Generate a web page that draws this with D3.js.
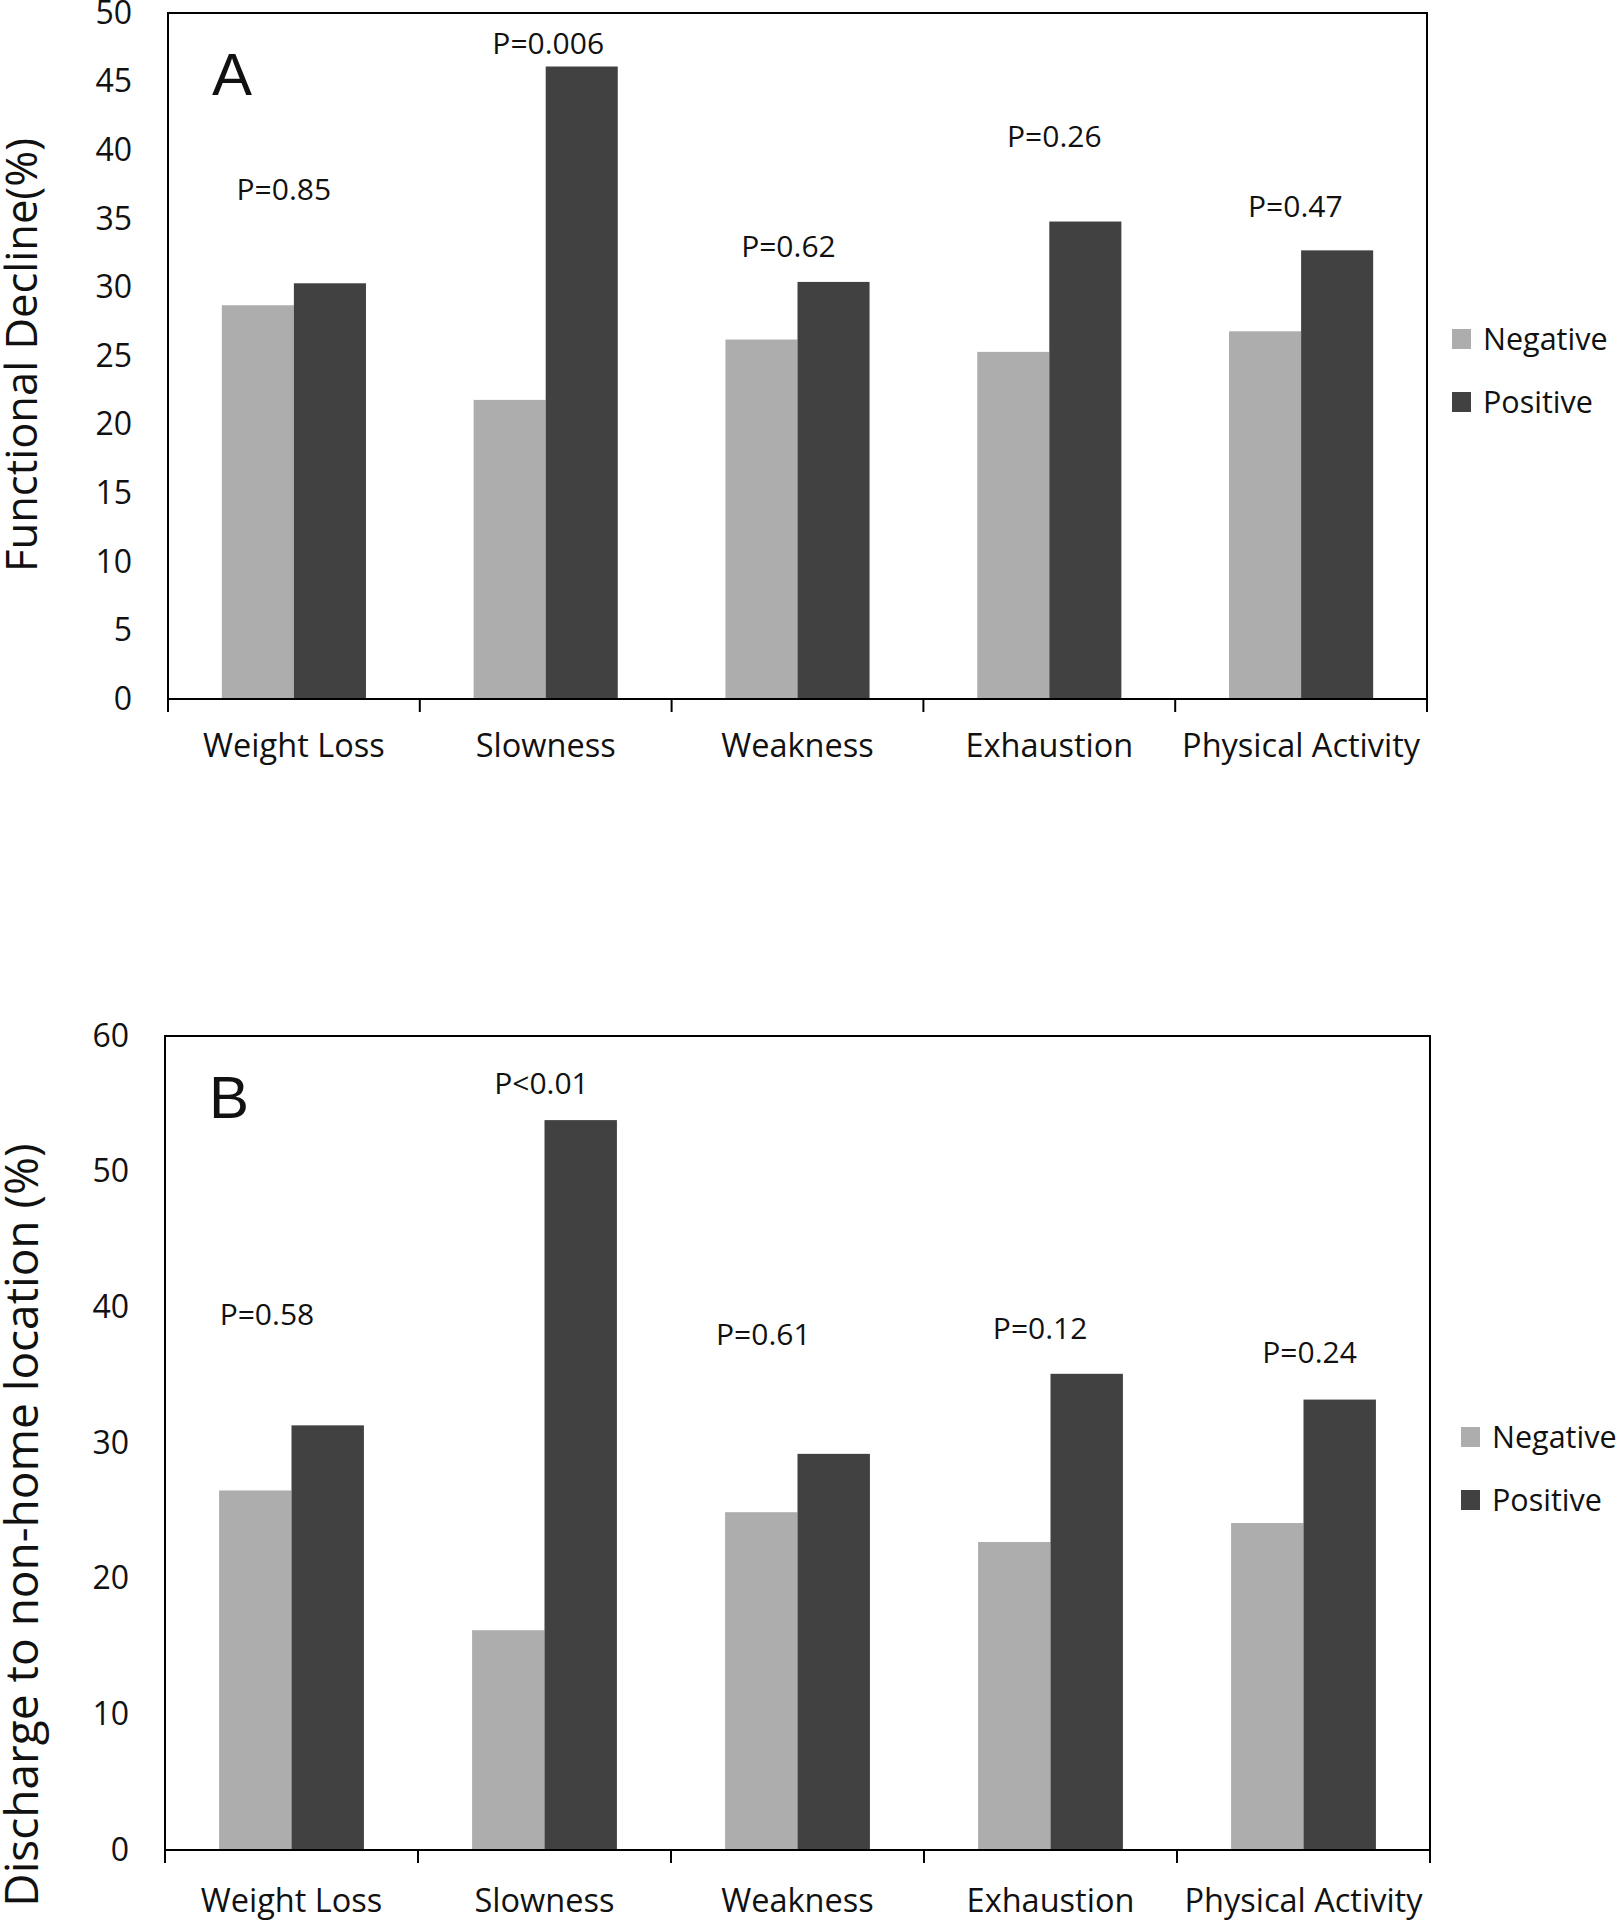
<!DOCTYPE html>
<html>
<head>
<meta charset="utf-8">
<script src="https://cdn.jsdelivr.net/npm/d3@7"></script>
<style>
  html, body { margin: 0; padding: 0; background: #fff; }
  svg { display: block; }
  text { font-family: "Open Sans", "Noto Sans", sans-serif; fill: #111; }
</style>
</head>
<body>
<svg id="chart" width="1619" height="1920"></svg>
<script>
// ---------- DATA ----------
const categories = ["Weight Loss", "Slowness", "Weakness", "Exhaustion", "Physical Activity"];
const seriesNames = ["Negative", "Positive"];

// Panel A: Functional Decline (%)
const declineNegative = [28.7, 21.8, 26.2, 25.3, 26.8];
const declinePositive = [30.3, 46.1, 30.4, 34.8, 32.7];
const declineTicks = [0, 5, 10, 15, 20, 25, 30, 35, 40, 45, 50];
const declinePLabels = ["P=0.85", "P=0.006", "P=0.62", "P=0.26", "P=0.47"];
const declinePLabelValue = [36.4, 47.0, 32.2, 40.2, 35.1];
const declinePLabelShift = [-0.04, 0.01, -0.036, 0.02, -0.023];

// Panel B: Discharge to non-home location (%)
const dischargeNegative = [26.5, 16.2, 24.9, 22.7, 24.1];
const dischargePositive = [31.3, 53.8, 29.2, 35.1, 33.2];
const dischargeTicks = [0, 10, 20, 30, 40, 50, 60];
const dischargePLabels = ["P=0.58", "P<0.01", "P=0.61", "P=0.12", "P=0.24"];
const dischargePLabelValue = [38.7, 55.7, 37.2, 37.7, 35.9];
const dischargePLabelShift = [-0.097, -0.012, -0.135, -0.041, 0.024];

// ---------- STYLE ----------
const colors = { Negative: "#adadad", Positive: "#414141" };

const svg = d3.select("#chart");

function drawPanel(opt) {
  const g = svg.append("g");
  const x = d3.scaleBand().domain(categories).range([opt.left, opt.right]).padding(0);
  const xs = d3.scaleBand().domain(seriesNames).range([0, x.bandwidth()]).paddingInner(0).paddingOuter(0.747);
  const y = d3.scaleLinear().domain([0, opt.max]).range([opt.bottom, opt.top]);

  const rows = categories.map((c, i) => ({
    cat: c,
    vals: [{ s: "Negative", v: opt.neg[i] }, { s: "Positive", v: opt.pos[i] }],
    p: opt.pLabels[i], pv: opt.pValue[i], ps: opt.pShift[i]
  }));

  // bars
  const grp = g.selectAll("g.cat").data(rows).join("g")
    .attr("class", "cat")
    .attr("transform", d => `translate(${x(d.cat)},0)`);
  grp.selectAll("rect").data(d => d.vals).join("rect")
    .attr("x", d => xs(d.s))
    .attr("width", xs.bandwidth())
    .attr("y", d => y(d.v))
    .attr("height", d => y(0) - y(d.v))
    .attr("fill", d => colors[d.s]);

  // P labels
  g.selectAll("text.p").data(rows).join("text")
    .attr("class", "p")
    .attr("x", d => x(d.cat) + x.bandwidth() / 2 + d.ps * x.bandwidth())
    .attr("y", d => y(d.pv))
    .attr("text-anchor", "middle")
    .style("font-size", "30px")
    .text(d => d.p);

  // frame (top, left, right)
  g.append("path")
    .attr("d", `M${opt.left},${opt.bottom}V${opt.top}H${opt.right}V${opt.bottom}`)
    .attr("fill", "none").attr("stroke", "#000").attr("stroke-width", 2);

  // y axis (labels only)
  const yAxis = d3.axisLeft(y).tickValues(opt.ticks).tickSize(0).tickPadding(36);
  const ya = g.append("g").attr("transform", `translate(${opt.left},0)`).call(yAxis);
  ya.select(".domain").remove();
  ya.selectAll("text").style("font-size", "32px").style("font-family", '"Open Sans", sans-serif').attr("fill", "#111");

  // x axis: line with tick marks at category boundaries
  const xa = g.append("g").attr("transform", `translate(0,${opt.bottom})`);
  xa.append("line").attr("x1", opt.left).attr("x2", opt.right)
    .attr("stroke", "#000").attr("stroke-width", 2);
  const bounds = categories.map(c => x(c)).concat([opt.right]);
  xa.selectAll("line.tk").data(bounds).join("line").attr("class", "tk")
    .attr("x1", d => d).attr("x2", d => d).attr("y1", 0).attr("y2", 13)
    .attr("stroke", "#000").attr("stroke-width", 2);
  xa.selectAll("text.cat").data(categories).join("text").attr("class", "cat")
    .attr("x", d => x(d) + x.bandwidth() / 2)
    .attr("y", opt.xLabelY)
    .attr("text-anchor", "middle")
    .style("font-size", "32.5px")
    .text(d => d);

  // panel letter
  g.append("text").attr("x", opt.left + 44).attr("y", opt.top + 82)
    .style("font-family", '"Liberation Sans", Arial, sans-serif')
    .style("font-size", "60px").text(opt.letter);

  // y title
  g.append("text")
    .attr("transform", `translate(${opt.titleX},${opt.titleY}) rotate(-90)`)
    .attr("text-anchor", "middle")
    .style("font-size", opt.titleSize + "px")
    .text(opt.title);

  // legend
  const lg = g.append("g");
  seriesNames.forEach((s, i) => {
    const cy = opt.legendY + i * 63;
    lg.append("rect").attr("x", opt.legendX).attr("y", cy - 10).attr("width", 19).attr("height", 20).attr("fill", colors[s]);
    lg.append("text").attr("x", opt.legendX + 31).attr("y", cy + 11).style("font-size", "30.5px").text(s);
  });
}

drawPanel({
  left: 168, right: 1427, top: 13, bottom: 699, max: 50,
  neg: declineNegative, pos: declinePositive, ticks: declineTicks,
  pLabels: declinePLabels, pValue: declinePLabelValue, pShift: declinePLabelShift,
  xLabelY: 58, letter: "A", title: "Functional Decline(%)", titleX: 37, titleY: 355, titleSize: 43.5,
  legendX: 1452, legendY: 339
});

drawPanel({
  left: 165, right: 1430, top: 1036, bottom: 1850, max: 60,
  neg: dischargeNegative, pos: dischargePositive, ticks: dischargeTicks,
  pLabels: dischargePLabels, pValue: dischargePLabelValue, pShift: dischargePLabelShift,
  xLabelY: 62, letter: "B", title: "Discharge to non-home location (%)", titleX: 38, titleY: 1525, titleSize: 46,
  legendX: 1461, legendY: 1437
});
</script>
</body>
</html>
